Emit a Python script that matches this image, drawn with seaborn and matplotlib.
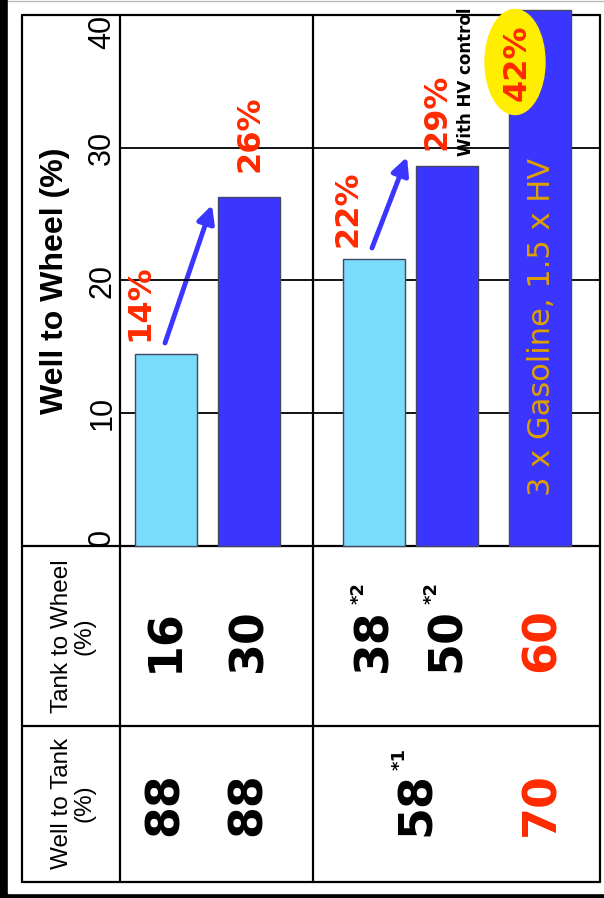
import numpy as np
import pandas as pd
import matplotlib.pyplot as plt
from matplotlib.patches import Ellipse, Rectangle
import seaborn as sns

# values (five vehicle cases, left to right)
kind = ['base', 'improved', 'base', 'improved', 'improved']
well_to_wheel = [14.5, 26.3, 21.6, 28.6, 40.4]
wtw_labels = ['14%', '26%', '22%', '29%', '42%']
tank_to_wheel = ['16', '30', '38', '50', '60']
ttw_notes = ['', '', '*2', '*2', '']
well_to_tank = ['88', '88', '58', '70']
wtt_notes = ['', '', '*1', '']
yticks = [0, 10, 20, 30, 40]

# layout (pixels)
bar_x = [46, 129, 254, 327, 420]          # bar centres inside the plot
bar_w = 62
lab_off = [(-26, 51), (1, 63), (-26, 51), (-10, 55), (-23, -53)]
ttw_x = [166, 249, 374, 447, 542]
wtt_x = [165, 248, 417, 542]

RED = '#ff2a00'
LIGHT = '#78dcfa'
BLUE = '#3a36ff'
GOLD = '#e0a000'

sns.set_theme(style='white')
plt.rcParams['font.family'] = ['Liberation Sans', 'DejaVu Sans']

fig = plt.figure(figsize=(6.04, 8.98), dpi=100, facecolor='black')

# background / table frame in pixel coordinates
bg = fig.add_axes([0, 0, 1, 1])
bg.set_xlim(0, 604)
bg.set_ylim(898, 0)
bg.axis('off')
bg.add_patch(Rectangle((8, 0), 596, 893, color='white', zorder=0))
bg.plot([8, 604], [0.5, 0.5], color='#bbbbbb', lw=1)
lw = 1.6
for xv in [22, 120, 313, 600]:
    bg.plot([xv, xv], [15, 882], color='black', lw=lw)
for yv in [15, 546, 726, 882]:
    bg.plot([22, 600], [yv, yv], color='black', lw=lw)

# bar chart
ax = fig.add_axes([120 / 604, 1 - 546 / 898, 480 / 604, 531 / 898])
ax.set_facecolor('none')
df = pd.DataFrame({'x': bar_x, 'wtw': well_to_wheel, 'kind': kind})
sns.barplot(data=df, x='x', y='wtw', hue='kind', palette={'base': LIGHT, 'improved': BLUE},
            native_scale=True, dodge=False, legend=False, ax=ax, saturation=1,
            width=bar_w / np.diff(sorted(bar_x)).min(), edgecolor='#444466', linewidth=1,
            zorder=3)
for p in ax.patches:
    p.set_clip_on(False)
ax.set_xlim(0, 480)
ax.set_ylim(0, 40)
ax.set_xticks([])
ax.set_xlabel('')
ax.set_yticks(yticks)
tl = ax.set_yticklabels([str(t) for t in yticks], rotation=90, va='center', fontsize=22)
tl[0].set_va('bottom')
tl[-1].set_va('top')
ax.tick_params(axis='y', length=0, pad=2, colors='black')
ax.yaxis.grid(True, color='black', lw=1.3)
ax.set_axisbelow(True)
for s in ax.spines.values():
    s.set_visible(False)
ax.set_ylabel('Well to Wheel (%)', fontsize=23, fontweight='bold', color='black',
             va='center', ha='center', rotation_mode='default')
ax.yaxis.set_label_coords(-65 / 480, 0.5)

# bar value labels
for xv, v, lab, (dx, dy) in zip(bar_x, well_to_wheel, wtw_labels, lab_off):
    if lab == '42%':
        continue
    ax.annotate(lab, xy=(xv, v), xytext=(dx, dy), textcoords='offset pixels',
                rotation=90, ha='center', va='center', color=RED, fontsize=23,
                fontweight='bold', family='DejaVu Sans', zorder=6)

# highlighted target value
ax.add_patch(Ellipse((515, 62), 60, 105, transform=bg.transData, color='#ffee00',
                     zorder=5, clip_on=False))
ax.annotate(wtw_labels[4], xy=(bar_x[4], well_to_wheel[4]), xytext=lab_off[4],
            textcoords='offset pixels', rotation=90, ha='center', va='center',
            color=RED, fontsize=23, fontweight='bold', family='DejaVu Sans',
            zorder=6, annotation_clip=False)
ax.text(541, 327, '3 x Gasoline, 1.5 x HV', transform=bg.transData, rotation=90,
        ha='center', va='center', color=GOLD, fontsize=22, family='DejaVu Sans', zorder=6)

# improvement arrows
for tail, head in [((165, 343), (212, 205)), ((372, 248), (407, 157))]:
    bg.annotate('', xy=head, xytext=tail,
                arrowprops=dict(arrowstyle='-|>', color=BLUE, lw=3.5, mutation_scale=26,
                                shrinkA=0, shrinkB=0))
bg.text(466, 156, 'With HV control', rotation=90, ha='center', va='bottom',
        fontsize=12, fontweight='bold', family='DejaVu Sans', color='black')

# table
bg.text(73, 636, 'Tank to Wheel\n(%)', rotation=90, ha='center', va='center',
        multialignment='center', fontsize=17.5, linespacing=1.05, color='black')
bg.text(73, 803, 'Well to Tank\n(%)', rotation=90, ha='center', va='center',
        multialignment='center', fontsize=17.5, linespacing=1.05, color='black')

for i, (xv, val, note) in enumerate(zip(ttw_x, tank_to_wheel, ttw_notes)):
    c = RED if i == len(tank_to_wheel) - 1 else 'black'
    bg.text(xv, 640, val, rotation=90, ha='center', va='center', fontsize=33,
            fontweight='bold', family='DejaVu Sans', color=c)
    if note:
        bg.text(xv - 15, 593, note, rotation=90, ha='center', va='center', fontsize=13,
                fontweight='bold', family='DejaVu Sans', color='black')
for i, (xv, val, note) in enumerate(zip(wtt_x, well_to_tank, wtt_notes)):
    c = RED if i == len(well_to_tank) - 1 else 'black'
    bg.text(xv, 804, val, rotation=90, ha='center', va='center', fontsize=33,
            fontweight='bold', family='DejaVu Sans', color=c)
    if note:
        bg.text(xv - 17, 759, note, rotation=90, ha='center', va='center', fontsize=13,
                fontweight='bold', family='DejaVu Sans', color='black')

fig.savefig('out.png', dpi=100, facecolor='black')
